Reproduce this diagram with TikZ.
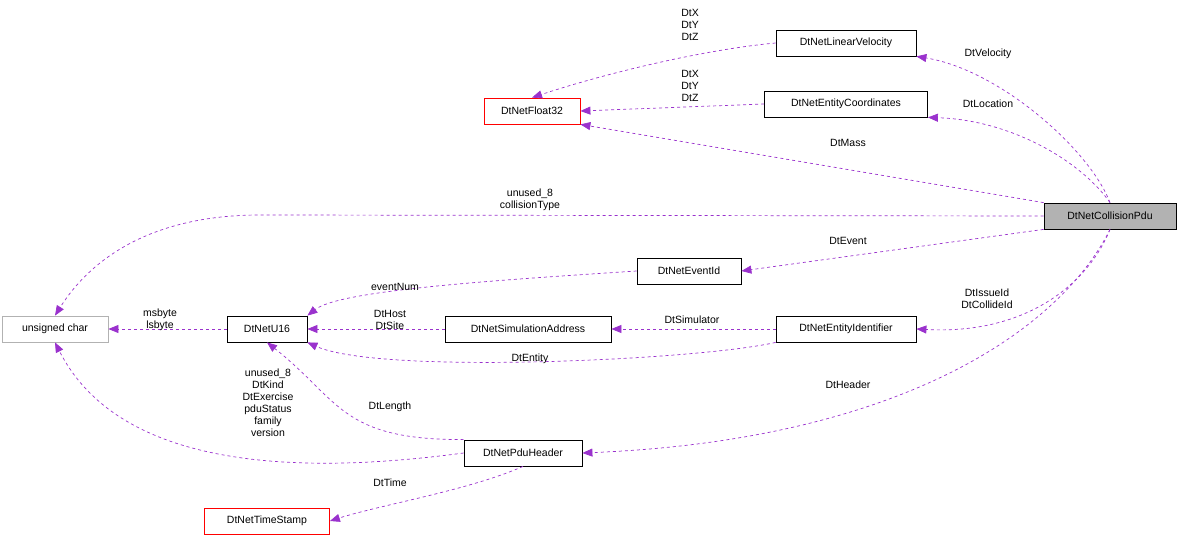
\documentclass[tikz,border=0pt]{standalone}
\usepackage{fontspec}
\setmainfont{Liberation Sans}
\usetikzlibrary{positioning}
\usetikzlibrary{arrows.meta}
\definecolor{edgecol}{HTML}{9A32CD}
\begin{document}
\begin{tikzpicture}[x=1pt,y=-1pt,
		every node/.style={font=\fontsize{10.5}{12}\selectfont},
		cls/.style={draw, line width=0.8pt, minimum height=26pt, inner sep=0pt},
		rel/.style={draw=edgecol, dashed, line width=0.7pt, -{Triangle[length=10pt,width=8pt,fill=edgecol]}},
		lab/.style={align=center, inner sep=0pt}]
		\useasboundingbox (0,0) rectangle (1181,540);
		
		\node[cls, fill=black!30, minimum width=132pt] (pdu) at (1110,216) {DtNetCollisionPdu};
		\node[cls, minimum width=140pt] (vel) at (846,43) {DtNetLinearVelocity};
		\node[cls, minimum width=163pt] (coord) at (846,104) {DtNetEntityCoordinates};
		\node[cls, draw=red, minimum width=96pt] (f32) at (532,111) {DtNetFloat32};
		\node[cls, minimum width=104pt] (evt) at (689,271) {DtNetEventId};
		\node[cls, minimum width=140pt] (eid) at (846,329) {DtNetEntityIdentifier};
		\node[cls, minimum width=166pt] (sim) at (528,329) {DtNetSimulationAddress};
		\node[cls, minimum width=80pt] (u16) at (267,329) {DtNetU16};
		\node[cls, draw=black!30, minimum width=106pt] (uch) at (55,329) {unsigned char};
		\node[cls, minimum width=118pt] (hdr) at (523,453) {DtNetPduHeader};
		\node[cls, draw=red, minimum width=125pt] (ts) at (267,521) {DtNetTimeStamp};
		
		% members of the pdu
		\draw[rel] (pdu.north) .. controls (1090,150) and (1000,70) .. (vel.south east);
		\draw[rel] (pdu.north) .. controls (1080,160) and (1010,120) .. (coord.south east);
		\draw[rel] (pdu.north west) -- (f32.south east);
		\draw[rel] (pdu.west) -- (260,215) .. controls (150,215) and (90,260) .. (uch.north);
		\draw[rel] (pdu.south west) -- (evt.east);
		\draw[rel] (pdu.south) .. controls (1090,280) and (1030,335) .. (eid.east);
		\draw[rel] (pdu.south) .. controls (1060,330) and (900,440) .. (hdr.east);
		
		% nested members
		\draw[rel] (vel.west) .. controls (700,50) and (600,75) .. (f32.north);
		\draw[rel] (coord.west) -- (f32.east);
		\draw[rel] (evt.west) .. controls (500,280) and (340,290) .. (u16.north east);
		\draw[rel] (sim.west) -- (u16.east);
		\draw[rel] (eid.west) -- (sim.east);
		\draw[rel] (eid.south west) .. controls (700,360) and (380,375) .. (u16.south east);
		\draw[rel] (u16.west) -- (uch.east);
		\draw[rel] (hdr.north west) .. controls (340,440) and (340,400) .. (u16.south);
		\draw[rel] (hdr.west) .. controls (300,475) and (120,470) .. (uch.south);
		\draw[rel] (hdr.south) .. controls (470,490) and (380,505) .. (ts.east);
		
		% labels
		\node[lab] (lvel) at (988,54) {DtVelocity};
		\node[lab] (lloc) at (988,104) {DtLocation};
		\node[lab] (lmass) at (848,143) {DtMass};
		\node[lab] (lxyz1) at (690,25) {DtX\\DtY\\DtZ};
		\node[lab] (lxyz2) at (690,86) {DtX\\DtY\\DtZ};
		\node[lab] (lcol) at (530,200) {unused\_8\\collisionType};
		\node[lab] (levt) at (848,241) {DtEvent};
		\node[lab] (lids) at (987,299) {DtIssueId\\DtCollideId};
		\node[lab] (lhdr) at (848,385) {DtHeader};
		\node[lab] (lnum) at (395,287) {eventNum};
		\node[lab] (lhost) at (390,320) {DtHost\\DtSite};
		\node[lab] (lsim) at (692,320) {DtSimulator};
		\node[lab] (lent) at (530,359) {DtEntity};
		\node[lab] (lbyte) at (160,320) {msbyte\\lsbyte};
		\node[lab] (llen) at (390,407) {DtLength};
		\node[lab] (lmix) at (268,403) {unused\_8\\DtKind\\DtExercise\\pduStatus\\family\\version};
		\node[lab] (ltime) at (390,483) {DtTime};
	\end{tikzpicture}
\end{document}
